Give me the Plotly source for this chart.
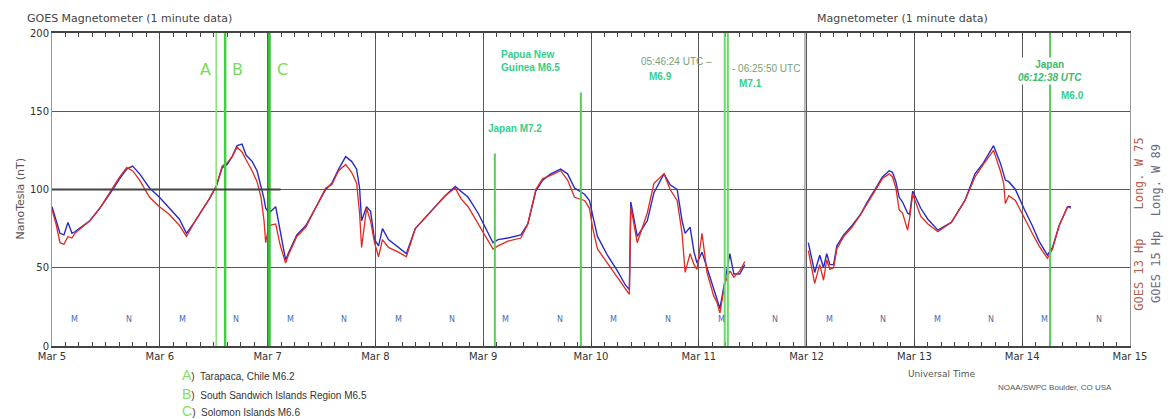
import plotly.graph_objects as go

# ---------------- data (days since Mar 5 00:00 UT) ----------------
day_labels = ["Mar 5", "Mar 6", "Mar 7", "Mar 8", "Mar 9", "Mar 10",
              "Mar 11", "Mar 12", "Mar 13", "Mar 14", "Mar 15"]
day_ticks = list(range(11))

t_left = [0.0, 0.037, 0.074, 0.111, 0.148, 0.185, 0.212, 0.351, 0.443, 0.563, 0.628, 0.693,
          0.748, 0.813, 0.905, 0.997, 1.090, 1.182, 1.247, 1.320, 1.394, 1.459, 1.523,
          1.579, 1.625, 1.671, 1.717, 1.763, 1.800, 1.856, 1.902, 1.939, 1.967, 1.982,
          2.013, 2.075, 2.115, 2.167, 2.198, 2.271, 2.355, 2.447, 2.539, 2.595, 2.659,
          2.724, 2.779, 2.826, 2.853, 2.872, 2.918, 2.955, 2.992, 3.029, 3.066, 3.121,
          3.213, 3.287, 3.370, 3.463, 3.555, 3.647, 3.740, 3.795, 3.860, 3.952, 4.017,
          4.091, 4.137, 4.229, 4.349, 4.414, 4.488, 4.552, 4.626, 4.718, 4.783, 4.847,
          4.940, 4.986, 5.014, 5.060, 5.152, 5.245, 5.319, 5.356, 5.369, 5.402, 5.429,
          5.522, 5.584, 5.677, 5.734, 5.799, 5.845, 5.873, 5.919, 5.956, 5.983, 6.030,
          6.076, 6.138, 6.168, 6.196, 6.242, 6.288, 6.325, 6.380, 6.427]

goes13_left = [87, 78, 66, 65, 70, 69, 72, 80, 88, 101, 108, 114,
               112, 106, 95, 89, 84, 77, 70, 79, 87, 94, 102,
               115, 117, 121, 127, 124, 119, 112, 105, 95, 80, 66,
               77, 78, 65, 53, 59, 70, 76, 88, 101, 103, 112,
               116, 111, 104, 85, 63, 88, 80, 66, 57, 68, 63,
               60, 57, 75, 82, 89, 96, 101, 94, 89, 78, 70,
               62, 64, 67, 69, 78, 100, 107, 109, 112, 106, 95,
               93, 88, 76, 62, 53, 44, 37, 33, 89, 75, 66,
               85, 104, 110, 100, 93, 72, 47, 59, 52, 49, 72,
               47, 32, 28, 21, 40, 48, 44, 48, 54]

goes15_left = [89, 80, 72, 71, 79, 72, 73, 80, 88, 100, 107, 113,
               115, 110, 101, 95, 88, 81, 72, 79, 87, 94, 102,
               114, 116, 121, 128, 129, 122, 118, 112, 102, 94, 88,
               85, 89, 74, 55, 60, 71, 77, 89, 100, 104, 113,
               121, 118, 113, 101, 80, 89, 86, 68, 64, 75, 68,
               63, 59, 75, 82, 89, 96, 102, 99, 95, 85, 76,
               66, 68, 69, 71, 78, 99, 106, 110, 113, 110, 101,
               97, 93, 84, 70, 58, 48, 39, 36, 92, 80, 70,
               80, 98, 110, 103, 100, 80, 72, 76, 60, 53, 60,
               50, 35, 30, 24, 42, 59, 46, 46, 52]

t_right = [7.016, 7.047, 7.075, 7.122, 7.157, 7.187, 7.216, 7.250, 7.281, 7.344, 7.422,
           7.500, 7.562, 7.625, 7.703, 7.766, 7.797, 7.828, 7.859, 7.890, 7.937, 7.956,
           7.984, 8.059, 8.125, 8.218, 8.343, 8.469, 8.562, 8.640, 8.734, 8.797, 8.828,
           8.844, 8.875, 8.937, 9.015, 9.093, 9.156, 9.234, 9.281, 9.343, 9.421, 9.453]

goes13_right = [61, 50, 40, 52, 42, 55, 49, 50, 62, 70, 76,
                84, 91, 99, 107, 110, 108, 101, 87, 85, 74, 82,
                97, 83, 78, 73, 79, 93, 108, 116, 125, 112, 104,
                91, 96, 93, 82, 72, 64, 56, 62, 77, 89, 88]

goes15_right = [66, 55, 47, 58, 50, 59, 52, 52, 64, 71, 77,
                84, 92, 99, 108, 112, 111, 105, 95, 92, 85, 84,
                99, 88, 81, 74, 79, 93, 110, 117, 128, 117, 110,
                106, 105, 100, 88, 77, 67, 58, 63, 77, 89, 89]

# earthquake markers: (time in days, top value of line)
quake_times = [1.523, 1.606, 2.015, 4.108, 4.906, 6.2406, 6.2693, 9.2588]
quake_tops = [200, 200, 200, 123, 162, 200, 200, 200]
quake_widths = [1.5, 2.5, 3, 2, 2, 2, 2, 2]
quake_colors = ["#88e07a", "#44cc44", "#33c433", "#55d055", "#55d055",
                "#6ad86a", "#6ad86a", "#55cc55"]

# local midnight / noon markers (GOES-13 local time)
mn_offsets = [0.21, 0.71]
mn_text = ["M", "N"]

legend_letters = ["A", "B", "C"]
legend_texts = ["Tarapaca, Chile M6.2", "South Sandwich Islands Region M6.5",
                "Solomon Islands M6.6"]

# ---------------- figure ----------------
t_all = t_left + [None] + t_right
g13 = goes13_left + [None] + goes13_right
g15 = goes15_left + [None] + goes15_right

fig = go.Figure()
fig.add_trace(go.Scatter(x=t_all, y=g15, mode="lines", connectgaps=False,
                         line=dict(color="#2a2ac8", width=1.4), name="GOES 15"))
fig.add_trace(go.Scatter(x=t_all, y=g13, mode="lines", connectgaps=False,
                         line=dict(color="#e02a1e", width=1.3), name="GOES 13"))

shapes = []
for t, top, w, c in zip(quake_times, quake_tops, quake_widths, quake_colors):
    shapes.append(dict(type="line", xref="x", yref="y", x0=t, x1=t, y0=0, y1=top,
                       line=dict(color=c, width=w), layer="above"))
# panel boundary (second image starts at Mar 12)
shapes.append(dict(type="line", xref="x", yref="paper", x0=6.985, x1=6.985, y0=0, y1=1,
                   line=dict(color="#777", width=1)))
# heavy 100 nT line on first part
shapes.append(dict(type="line", xref="x", yref="y", x0=0, x1=2.12, y0=100, y1=100,
                   line=dict(color="#444", width=2)))

ann = []
font_main = "DejaVu Sans"
green_t = "#33d08a"
for d in range(10):
    for off, txt in zip(mn_offsets, mn_text):
        ann.append(dict(x=d + off, y=17, xref="x", yref="y", text=txt, showarrow=False,
                        font=dict(family=font_main, size=8,
                                  color="#3a6cc4" if txt == "M" else "#5a6e9e")))

ann += [
    dict(x=-0.025, y=1.045, xref="paper", yref="paper", xanchor="left", yanchor="middle",
         text="GOES Magnetometer (1 minute data)", showarrow=False,
         font=dict(family=font_main, size=11, color="#444")),
    dict(x=0.708, y=1.045, xref="paper", yref="paper", xanchor="left", yanchor="middle",
         text="Magnetometer (1 minute data)", showarrow=False,
         font=dict(family=font_main, size=11, color="#444")),
    dict(x=-0.037, y=0.47, xref="paper", yref="paper", text="NanoTesla (nT)",
         textangle=-90, showarrow=False, font=dict(family=font_main, size=11, color="#555")),
    dict(x=1.0165, y=0.39, xref="paper", yref="paper",
         text="GOES 13 Hp &nbsp; &nbsp;Long. W 75", textangle=-90, showarrow=False,
         font=dict(family="DejaVu Sans Mono", size=12, color="#b3614e")),
    dict(x=1.0325, y=0.39, xref="paper", yref="paper",
         text="GOES 15 Hp &nbsp;Long. W 89", textangle=-90, showarrow=False,
         font=dict(family="DejaVu Sans Mono", size=12, color="#6a6a82")),
    dict(x=0.858, y=-0.088, xref="paper", yref="paper", text="Universal Time",
         showarrow=False, yanchor="middle",
         font=dict(family=font_main, size=9, color="#555")),
    dict(x=0.985, y=-0.152, xref="paper", yref="paper", text="NOAA/SWPC Boulder, CO USA",
         showarrow=False, font=dict(family="Liberation Sans Narrow, Liberation Sans", size=8,
                                    color="#555")),
    # A, B, C labels
    dict(x=1.42, y=177, xref="x", yref="y", text="A", showarrow=False,
         font=dict(family=font_main, size=16, color="#77dd55")),
    dict(x=1.72, y=177, xref="x", yref="y", text="B", showarrow=False,
         font=dict(family=font_main, size=16, color="#77dd55")),
    dict(x=2.14, y=177, xref="x", yref="y", text="C", showarrow=False,
         font=dict(family=font_main, size=16, color="#77dd55")),
    # Japan M7.2
    dict(x=4.03, y=139, xref="x", yref="y", xanchor="left", text="<b>Japan M7.2</b>",
         showarrow=False, font=dict(family="Liberation Sans", size=10, color=green_t)),
    # Papua New Guinea
    dict(x=4.15, y=182, xref="x", yref="y", xanchor="left", align="left",
         text="<b>Papua New<br>Guinea M6.5</b>", showarrow=False,
         font=dict(family="Liberation Sans", size=10, color=green_t)),
    # Tohoku times
    dict(x=6.14, y=181.5, xref="x", yref="y", xanchor="right",
         text="05:46:24 UTC –", showarrow=False,
         font=dict(family="Liberation Sans", size=10, color="#7a9e78")),
    dict(x=5.52, y=172.5, xref="x", yref="y", xanchor="left", text="<b>M6.9</b>",
         showarrow=False, font=dict(family="Liberation Sans", size=10, color=green_t)),
    dict(x=6.29, y=177.5, xref="x", yref="y", xanchor="left",
         text="- 06:25:50 UTC", showarrow=False,
         font=dict(family="Liberation Sans", size=10, color="#7a9e78")),
    dict(x=6.35, y=167.5, xref="x", yref="y", xanchor="left", text="<b>M7.1</b>",
         showarrow=False, font=dict(family="Liberation Sans", size=10, color=green_t)),
    # Japan Mar 14
    dict(x=9.2588, y=175.5, xref="x", yref="y", align="center",
         text="<b>Japan</b><br><b><i>06:12:38 UTC</i></b>", showarrow=False,
         bgcolor="white", borderpad=1,
         font=dict(family="Liberation Sans", size=10, color="#3dbb6a")),
    dict(x=9.34, y=160, xref="x", yref="y", xanchor="left", text="<b>M6.0</b>",
         showarrow=False, font=dict(family="Liberation Sans", size=10, color=green_t)),
]

leg_y = [-0.093, -0.153, -0.207]
for L, txt, yy in zip(legend_letters, legend_texts, leg_y):
    ann.append(dict(x=0.119, y=yy, xref="paper", yref="paper", xanchor="left",
                    yanchor="middle", showarrow=False,
                    text=f"<span style='color:#88dd66;font-size:14px'>{L}</span>)&nbsp; {txt}",
                    font=dict(family="Liberation Sans Narrow, Liberation Sans", size=10,
                              color="#333")))

fig.update_layout(
    width=1176, height=419,
    margin=dict(l=52, r=46, t=33, b=73),
    paper_bgcolor="white", plot_bgcolor="white",
    showlegend=False,
    shapes=shapes, annotations=ann,
    xaxis=dict(range=[0, 10], tickvals=day_ticks, ticktext=day_labels,
               showgrid=True, gridcolor="#5a5a5a", gridwidth=1,
               ticks="inside", ticklen=6, tickcolor="#444",
               minor=dict(dtick=0.125, tick0=0, ticks="inside", ticklen=4,
                          tickcolor="#444", showgrid=False),
               showline=True, linecolor="#444", linewidth=1.5, mirror="ticks",
               zeroline=False,
               tickfont=dict(family=font_main, size=10, color="#333")),
    yaxis=dict(range=[0, 200], tickvals=[0, 50, 100, 150, 200],
               showgrid=True, gridcolor="#5a5a5a", gridwidth=1,
               ticks="", showline=True, linecolor="#999", mirror=True,
               zeroline=False,
               tickfont=dict(family=font_main, size=10, color="#333")),
)

fig.write_html("out.html")
